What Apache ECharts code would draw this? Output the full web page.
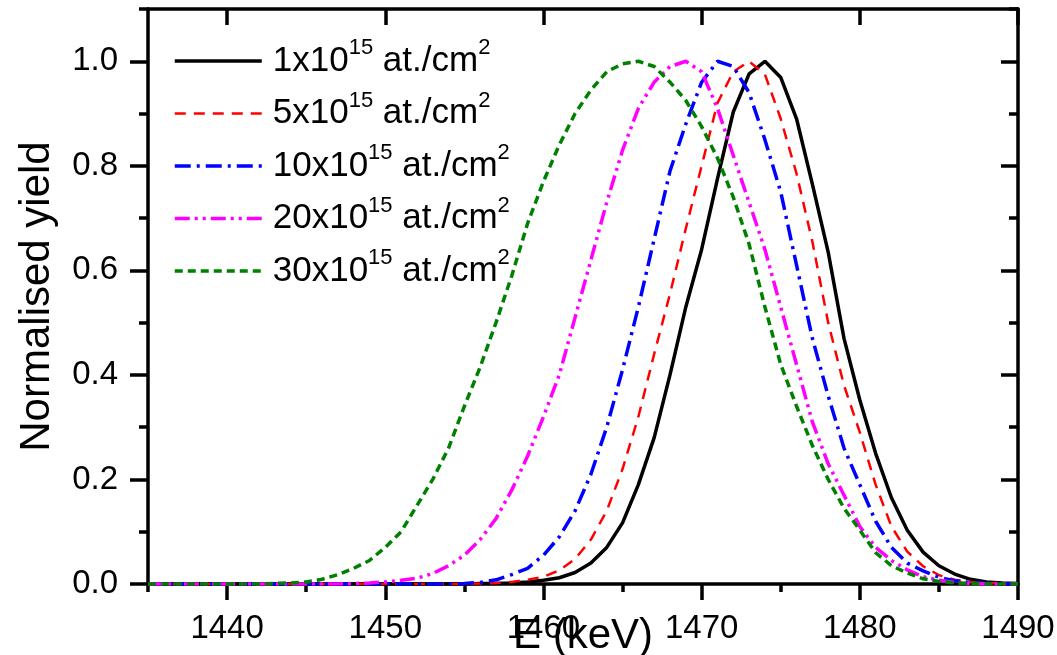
<!DOCTYPE html>
<html>
<head>
<meta charset="utf-8">
<script src="https://cdn.jsdelivr.net/npm/echarts@6/dist/echarts.min.js"></script>
<style>
html,body{margin:0;padding:0;background:#fff;}
#chart{width:1057px;height:655px;}
</style>
</head>
<body>
<div id="chart"></div>
<script>
// ---- data ----
const energies = [1435,1436,1437,1438,1439,1440,1441,1442,1443,1444,1445,1446,1447,1448,1449,1450,1451,1452,1453,1454,1455,1456,1457,1458,1459,1460,1461,1462,1463,1464,1465,1466,1467,1468,1469,1470,1471,1472,1473,1474,1475,1476,1477,1478,1479,1480,1481,1482,1483,1484,1485,1486,1487,1488,1489,1490];

const yield1 = [0,0,0,0,0,0,0,0,0,0,0,0,0,0,0,0,0,0,0,0,
  0,0.001,0.001,0.002,0.004,0.007,0.012,0.022,0.04,0.07,0.117,0.19,0.28,0.40,0.53,0.64,0.775,0.903,0.976,1.0,
  0.969,0.89,0.765,0.635,0.47,0.352,0.25,0.165,0.103,0.061,0.035,0.019,0.009,0.004,0.002,0.001];

const yield5 = [0,0,0,0,0,0,0,0,0,0,0,0,0,0,0,0,0,0,0,0,
  0,0.001,0.002,0.004,0.008,0.014,0.026,0.048,0.085,0.14,0.22,0.32,0.44,0.555,0.68,0.80,0.92,0.98,1.0,0.975,
  0.89,0.785,0.655,0.50,0.38,0.29,0.19,0.11,0.062,0.034,0.017,0.008,0.004,0.002,0.001,0];

const yield10 = [0,0,0,0,0,0,0,0,0,0,0,0,0,0,0,0,0,0,0,0,
  0.001,0.003,0.008,0.018,0.03,0.055,0.09,0.14,0.21,0.30,0.41,0.53,0.66,0.79,0.88,0.96,1.0,0.99,0.94,0.85,
  0.75,0.61,0.47,0.36,0.26,0.19,0.12,0.07,0.04,0.025,0.013,0.006,0.003,0.001,0,0];

const yield20 = [0,0,0,0,0,0,0,0,0,0,0,0,0,0.001,0.002,0.004,0.007,0.011,0.02,0.035,
  0.055,0.085,0.125,0.18,0.245,0.32,0.40,0.51,0.62,0.73,0.83,0.91,0.96,0.99,1.0,0.98,0.91,0.82,0.73,0.64,
  0.53,0.42,0.31,0.23,0.17,0.11,0.07,0.045,0.027,0.014,0.007,0.003,0.001,0,0,0];

const yield30 = [0,0,0,0,0,0,0,0,0.001,0.002,0.004,0.009,0.018,0.03,0.045,0.07,0.10,0.15,0.20,0.26,
  0.34,0.415,0.50,0.59,0.69,0.77,0.84,0.90,0.945,0.98,0.995,1.0,0.99,0.96,0.925,0.875,0.815,0.74,0.65,0.53,
  0.42,0.34,0.265,0.20,0.145,0.103,0.06,0.035,0.021,0.01,0.005,0.002,0.001,0,0,0];

const seriesNames = ['1x10^15 at./cm^2','5x10^15 at./cm^2','10x10^15 at./cm^2','20x10^15 at./cm^2','30x10^15 at./cm^2'];

const xMajorTicks = [1440,1450,1460,1470,1480,1490];
const xMinorTicks = [1435,1445,1455,1465,1475,1485];
const yMajorTicks = [0,0.2,0.4,0.6,0.8,1.0];
const yMinorTicks = [0.1,0.3,0.5,0.7,0.9,1.1];

// ---- chart ----
const FONT = "'Liberation Sans', Arial, sans-serif";
const pair = (xs, ys) => xs.map((x, i) => [x, ys[i]]);

const lineStyles = [
  {color:'#000000', width:3.5, type:'solid'},
  {color:'#ff0000', width:2.5, type:[11,8]},
  {color:'#0000ff', width:3.5, type:[16,6,3,6]},
  {color:'#ff00ff', width:3.5, type:[15,5,3,5,3,5]},
  {color:'#008000', width:3.5, type:[8,5]}
];
const yields = [yield1, yield5, yield10, yield20, yield30];

const tickLine = {color:'#000', width:3.5};
function xAx(pos, ticks, len, inside, extra) {
  return Object.assign({
    type:'value', position:pos, min:1435, max:1490, gridIndex:0,
    axisLine:{show:false},
    axisTick:{show:true, inside:inside, length:len, customValues:ticks, lineStyle:tickLine},
    axisLabel:{show:false},
    splitLine:{show:false}
  }, extra || {});
}
function yAx(pos, ticks, len, inside, extra) {
  return Object.assign({
    type:'value', position:pos, min:0, max:1.1, gridIndex:0,
    axisLine:{show:false},
    axisTick:{show:true, inside:inside, length:len, customValues:ticks, lineStyle:tickLine},
    axisLabel:{show:false},
    splitLine:{show:false}
  }, extra || {});
}

const axisLineStyle = {show:true, onZero:false, lineStyle:{color:'#000', width:3.5}};

const option = {
  animation:false,
  backgroundColor:'#fff',
  grid:{left:148, right:39, top:9, bottom:71, containLabel:false, outerBoundsMode:'none'},
  xAxis:[
    xAx('bottom', xMajorTicks, 16, false, {
      axisLine:axisLineStyle,
      axisLabel:{show:true, customValues:xMajorTicks, margin:28, color:'#000', fontSize:33, fontFamily:FONT,
        formatter:v => String(v)},
      name:'E (keV)', nameLocation:'middle', nameGap:31, nameMoveOverlap:false,
      nameTextStyle:{color:'#000', fontSize:42, fontFamily:FONT}
    }),
    xAx('bottom', xMinorTicks, 8, false),
    xAx('top', xMajorTicks, 16, true, {axisLine:axisLineStyle}),
    xAx('top', xMinorTicks, 8, true)
  ],
  yAxis:[
    yAx('left', yMajorTicks, 18, false, {
      axisLine:axisLineStyle,
      axisLabel:{show:true, customValues:yMajorTicks, margin:30, color:'#000', fontSize:33, fontFamily:FONT,
        formatter:v => Number(v).toFixed(1)},
      name:'Normalised yield', nameLocation:'middle', nameGap:90, nameMoveOverlap:false,
      nameTextStyle:{color:'#000', fontSize:42, fontFamily:FONT}
    }),
    yAx('left', yMinorTicks, 9, false),
    yAx('right', yMajorTicks, 17, true, {axisLine:axisLineStyle}),
    yAx('right', yMinorTicks, 9, true)
  ],
  legend:{
    orient:'vertical', left:173, top:37, padding:0,
    itemWidth:87, itemHeight:14, itemGap:4.5,
    data:seriesNames.map((n, i) => ({name:n, lineStyle:{width:lineStyles[i].width}})),
    itemStyle:{color:'rgba(0,0,0,0)', borderWidth:0, opacity:0},
    formatter:n => n.replace(/\^(\d+)/g, '{sup|$1}'),
    textStyle:{color:'#000', fontSize:35, fontFamily:FONT, lineHeight:48, padding:[0,0,0,6],
      rich:{sup:{fontSize:22, lineHeight:22, fontFamily:FONT, color:'#000', verticalAlign:'top'}}}
  },
  series:seriesNames.map((n, i) => ({
    name:n, type:'line', data:pair(energies, yields[i]), symbol:'none',
    color:lineStyles[i].color, lineStyle:lineStyles[i]
  }))
};

const chart = echarts.init(document.getElementById('chart'), null, {renderer:'canvas'});
chart.setOption(option);
</script>
</body>
</html>
